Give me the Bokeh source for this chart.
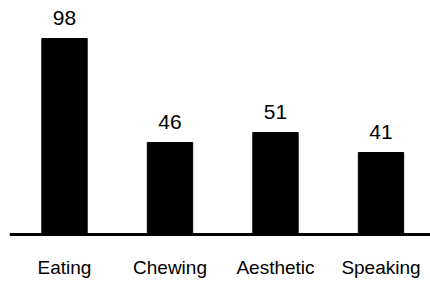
from bokeh.plotting import figure
from bokeh.models import Range1d, ColumnDataSource, LabelSet, Span
from bokeh.core.properties import value
from bokeh.embed import file_html
from bokeh.resources import INLINE

categories = ["Eating", "Chewing", "Aesthetic", "Speaking"]
values = [98, 46, 51, 41]
positions = [0, 1, 2, 3]

src = ColumnDataSource(dict(x=positions, top=values, base=[0, 0, 0, 0],
                            label=[str(v) for v in values], cat=categories))

W, H = 430, 281
LEFT = 9
PX = 105.5  # pixels per category
x0 = -(64 - LEFT) / PX
p = figure(width=W, height=H, output_backend="svg", toolbar_location=None,
           x_range=Range1d(x0, x0 + (W - LEFT) / PX),
           y_range=Range1d(-(H - 234) / 2.0, 234 / 2.0),
           min_border_left=LEFT, min_border_right=0, min_border_top=0, min_border_bottom=0)

p.outline_line_color = None
p.grid.visible = False
p.xaxis.visible = False
p.yaxis.visible = False
p.background_fill_color = "white"
p.border_fill_color = "white"

p.vbar(x="x", top="top", bottom=0, width=0.43, source=src,
       fill_color="black", line_color="black")

p.add_layout(Span(location=0, dimension="width", line_color="black", line_width=3))

vlabels = LabelSet(x="x", y="top", text="label", source=src, y_offset=14,
                   text_align="center", text_baseline="alphabetic",
                   text_font=value("Liberation Sans"), text_font_size="21px",
                   text_color="black")
p.add_layout(vlabels)

clabels = LabelSet(x="x", y="base", text="cat", source=src, y_offset=-39,
                   text_align="center", text_baseline="alphabetic",
                   text_font=value("Liberation Sans"), text_font_size="19px",
                   text_color="black")
p.add_layout(clabels)

open("out.html", "w").write(file_html(p, INLINE))
